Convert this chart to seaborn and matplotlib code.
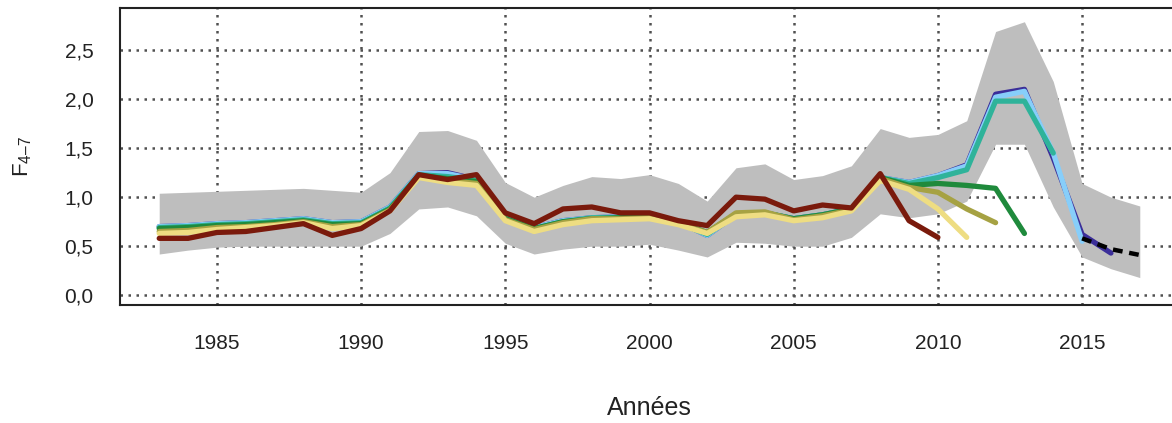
import numpy as np
import pandas as pd
import matplotlib
matplotlib.use("Agg")
import matplotlib.pyplot as plt
import seaborn as sns

sns.set_style("white")
plt.rcParams['font.family'] = ['Liberation Sans', 'DejaVu Sans']
plt.rcParams['mathtext.fontset'] = 'custom'
plt.rcParams['mathtext.rm'] = 'Liberation Sans'

years = list(range(1983, 2018))

band_upper = [1.04, 1.05, 1.06, 1.07, 1.08, 1.09, 1.07, 1.05, 1.25, 1.67, 1.68, 1.58,
              1.15, 1.00, 1.12, 1.21, 1.19, 1.23, 1.14, 0.96, 1.30, 1.34, 1.18, 1.22,
              1.32, 1.70, 1.61, 1.64, 1.78, 2.69, 2.79, 2.18, 1.14, 1.00, 0.91]
band_lower = [0.42, 0.46, 0.49, 0.50, 0.50, 0.50, 0.50, 0.50, 0.63, 0.88, 0.90, 0.81,
              0.53, 0.42, 0.47, 0.50, 0.50, 0.52, 0.46, 0.39, 0.54, 0.53, 0.50, 0.50,
              0.59, 0.83, 0.79, 0.83, 0.96, 1.54, 1.54, 0.90, 0.39, 0.27, 0.18]

# retrospective runs (terminal year -> values from 1983)
run_2010 = [0.58, 0.58, 0.64, 0.65, 0.69, 0.73, 0.61, 0.68, 0.86, 1.23, 1.18, 1.23,
            0.84, 0.73, 0.88, 0.90, 0.84, 0.84, 0.76, 0.71, 1.00, 0.98, 0.86, 0.92,
            0.89, 1.24, 0.76, 0.59]
run_2011 = [0.63, 0.64, 0.67, 0.69, 0.71, 0.74, 0.68, 0.71, 0.86, 1.20, 1.15, 1.12,
            0.76, 0.65, 0.72, 0.76, 0.77, 0.78, 0.72, 0.63, 0.80, 0.82, 0.76, 0.79,
            0.86, 1.17, 1.08, 0.88, 0.59]
run_2012 = [0.65, 0.66, 0.69, 0.70, 0.72, 0.75, 0.70, 0.72, 0.87, 1.21, 1.17, 1.14,
            0.77, 0.67, 0.74, 0.78, 0.78, 0.79, 0.73, 0.64, 0.84, 0.85, 0.77, 0.81,
            0.87, 1.19, 1.10, 1.05, 0.88, 0.74]
run_2013 = [0.68, 0.69, 0.71, 0.72, 0.74, 0.76, 0.72, 0.73, 0.88, 1.22, 1.19, 1.16,
            0.78, 0.68, 0.75, 0.78, 0.79, 0.80, 0.74, 0.64, 0.83, 0.84, 0.78, 0.82,
            0.88, 1.20, 1.12, 1.14, 1.12, 1.09, 0.63]
run_2014 = [0.69, 0.70, 0.72, 0.73, 0.75, 0.77, 0.73, 0.74, 0.89, 1.23, 1.21, 1.17,
            0.79, 0.68, 0.75, 0.79, 0.79, 0.80, 0.74, 0.62, 0.82, 0.84, 0.78, 0.82,
            0.88, 1.20, 1.14, 1.20, 1.28, 1.98, 1.98, 1.45]
run_2015 = [0.70, 0.71, 0.73, 0.74, 0.76, 0.78, 0.74, 0.75, 0.90, 1.24, 1.24, 1.18,
            0.80, 0.69, 0.76, 0.79, 0.80, 0.81, 0.75, 0.61, 0.82, 0.84, 0.78, 0.82,
            0.88, 1.20, 1.15, 1.22, 1.32, 2.02, 2.08, 1.45, 0.55]
run_2016 = [0.70, 0.71, 0.73, 0.74, 0.76, 0.78, 0.74, 0.75, 0.90, 1.24, 1.25, 1.18,
            0.80, 0.69, 0.76, 0.79, 0.80, 0.81, 0.75, 0.61, 0.82, 0.84, 0.78, 0.82,
            0.88, 1.20, 1.15, 1.22, 1.33, 2.05, 2.10, 1.40, 0.62, 0.43]
run_2017_years = [2015, 2016, 2017]
run_2017 = [0.58, 0.47, 0.41]

y_ticks = [0.0, 0.5, 1.0, 1.5, 2.0, 2.5]
y_tick_labels = ["0,0", "0,5", "1,0", "1,5", "2,0", "2,5"]
x_ticks = [1985, 1990, 1995, 2000, 2005, 2010, 2015]

fig = plt.figure(figsize=(11.72, 4.23), dpi=100)
ax = fig.add_axes([120/1172, 1 - 305/423, 1059/1172, 297/423])

ax.fill_between(years, band_lower, band_upper, color="#bebebe", lw=0, zorder=1)

runs = [
    (years[:34], run_2016, "#3b2e99"),
    (years[:33], run_2015, "#87cefa"),
    (years[:32], run_2014, "#2fb39a"),
    (years[:31], run_2013, "#1f8a3c"),
    (years[:30], run_2012, "#a6a243"),
    (years[:29], run_2011, "#eedd82"),
    (years[:28], run_2010, "#7a1a0c"),
]
for i, (xs, ys, col) in enumerate(runs):
    df = pd.DataFrame({"year": xs, "F": ys})
    sns.lineplot(data=df, x="year", y="F", color=col, lw=3.8, ax=ax,
                 estimator=None, legend=False, zorder=3 + i * 0.1)

df17 = pd.DataFrame({"year": run_2017_years, "F": run_2017})
sns.lineplot(data=df17, x="year", y="F", color="black", lw=3.2, ax=ax,
             estimator=None, legend=False, zorder=4,
             linestyle=(0, (2.2, 1.5)))

ax.set_xlim(1981.64, 2018.36)
ax.set_ylim(-0.10, 2.93)
ax.set_xticks(x_ticks)
ax.set_xticklabels([str(t) for t in x_ticks])
ax.set_yticks(y_ticks)
ax.set_yticklabels(y_tick_labels)

ax.grid(True, color="#505050", linestyle=(0, (1, 2.2)), linewidth=1.8)
for s in ax.spines.values():
    s.set_color("#222222")
    s.set_linewidth(1.5)

ax.tick_params(axis="both", direction="out", length=10, width=1.4,
               color="#222222", labelcolor="#222222", labelsize=15)
ax.tick_params(axis="x", pad=11)
ax.tick_params(axis="y", pad=9)

ax.set_xlabel("Années", fontsize=18, color="#222222", labelpad=31)
ax.set_ylabel("$\\mathrm{F}_{4\u20137}$", fontsize=16, color="#222222", labelpad=22)

fig.savefig("out.png", dpi=100)
